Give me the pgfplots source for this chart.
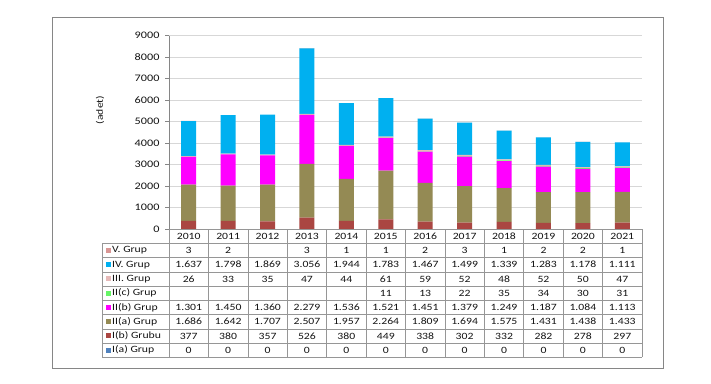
\documentclass[border=0pt]{standalone}
\usepackage{pgfplots}
\pgfplotsset{compat=1.18}
\usepackage{pgfplotstable}
\usepackage{fontspec}
\setmainfont{Carlito}[FakeStretch=1.22]
\definecolor{cIa}{RGB}{79,129,189}
\definecolor{cIb}{RGB}{170,70,66}
\definecolor{cIIa}{RGB}{148,138,84}
\definecolor{cIIb}{RGB}{255,0,255}
\definecolor{cIIc}{RGB}{102,245,102}
\definecolor{cIII}{RGB}{230,185,184}
\definecolor{cIV}{RGB}{0,176,240}
\definecolor{cV}{RGB}{217,150,148}
\definecolor{frame}{RGB}{134,134,134}
\definecolor{tgrid}{RGB}{150,150,150}
\definecolor{hgrid}{RGB}{215,215,215}
\definecolor{txt}{RGB}{20,20,20}

\pgfplotstableread{
x  Ia  Ib   IIa   IIb   IIc  III  IV    V
0  0   377  1686  1301  0    26   1637  3
1  0   380  1642  1450  0    33   1798  2
2  0   357  1707  1360  0    35   1869  0
3  0   526  2507  2279  0    47   3056  3
4  0   380  1957  1536  0    44   1944  1
5  0   449  2264  1521  11   61   1783  1
6  0   338  1809  1451  13   59   1467  2
7  0   302  1694  1379  22   52   1499  3
8  0   332  1575  1249  35   48   1339  1
9  0   282  1431  1187  34   52   1283  2
10 0   278  1438  1084  30   50   1178  2
11 0   297  1433  1113  31   47   1111  1
}\datatable

\begin{document}
\begin{tikzpicture}[x=1pt, y=1pt]
\path[use as bounding box, fill=white] (0,0) rectangle (711,383);
\draw[frame, line width=0.9pt] (52,15) rectangle (663,366);

\begin{axis}[
  at={(169pt,154pt)}, anchor=south west,
  width=473pt, height=193.3pt, scale only axis,
  ybar stacked, bar width=15pt,
  xmin=-0.5, xmax=11.5, ymin=0, ymax=9000,
  ytick={0,1000,...,9000}, xtick=\empty,
  axis lines*=left,
  axis line style={frame, line width=0.6pt},
  tick align=outside, major tick length=4pt,
  ytick style={frame, line width=0.6pt},
  ymajorgrids, grid style={hgrid, line width=0.9pt},
  /pgf/number format/.cd, 1000 sep={}, assume math mode=true,
  /pgfplots/.cd,
  yticklabel style={font=\fontsize{10}{12}\selectfont, text=txt, xshift=-2pt},
  clip=false,
]
\addplot[fill=cIa, draw=none] table[x=x, y=Ia] {\datatable};
\addplot[fill=cIb, draw=none] table[x=x, y=Ib] {\datatable};
\addplot[fill=cIIa, draw=none] table[x=x, y=IIa] {\datatable};
\addplot[fill=cIIb, draw=none] table[x=x, y=IIb] {\datatable};
\addplot[fill=cIIc, draw=none] table[x=x, y=IIc] {\datatable};
\addplot[fill=cIII, draw=none] table[x=x, y=III] {\datatable};
\addplot[fill=cIV, draw=none] table[x=x, y=IV] {\datatable};
\addplot[fill=cV, draw=none] table[x=x, y=V] {\datatable};
\end{axis}

\node[rotate=90, text=txt, font=\fontsize{9.5}{11}\selectfont] at (100,273) {(adet)};

% data table grid
\def\cw{39.4167}
\draw[tgrid, line width=0.6pt] (169,154) -- (642,154);
\foreach \k in {0,...,8} {
  \draw[tgrid, line width=0.6pt] (102,{139.7-14.25*\k}) -- (642,{139.7-14.25*\k});
}
\draw[tgrid, line width=0.6pt] (102,139.7) -- (102,25.7);
\foreach \i in {0,...,12} {
  \draw[tgrid, line width=0.6pt] ({169+\cw*\i},154) -- ({169+\cw*\i},25.7);
}
% header years
\foreach \y [count=\i from 0] in {2010,2011,2012,2013,2014,2015,2016,2017,2018,2019,2020,2021} {
  \node[text=txt, font=\fontsize{9.6}{11}\selectfont, inner sep=0pt] at ({169+\cw*(\i+0.5)},146.85) {\y};
}
% rows
\foreach \nm/\cl/\vals [count=\k from 0] in {
  V. Grup/cV/{3,2,{},3,1,1,2,3,1,2,2,1},
  IV. Grup/cIV/{1.637,1.798,1.869,3.056,1.944,1.783,1.467,1.499,1.339,1.283,1.178,1.111},
  III. Grup/cIII/{26,33,35,47,44,61,59,52,48,52,50,47},
  II(c) Grup/cIIc/{{},{},{},{},{},11,13,22,35,34,30,31},
  II(b) Grup/cIIb/{1.301,1.450,1.360,2.279,1.536,1.521,1.451,1.379,1.249,1.187,1.084,1.113},
  II(a) Grup/cIIa/{1.686,1.642,1.707,2.507,1.957,2.264,1.809,1.694,1.575,1.431,1.438,1.433},
  I(b) Grubu/cIb/{377,380,357,526,380,449,338,302,332,282,278,297},
  I(a) Grup/cIa/{0,0,0,0,0,0,0,0,0,0,0,0}} {
  \pgfmathsetmacro{\yc}{139.7-14.25*(\k+0.5)}
  \fill[\cl] (105.5,\yc-2.5) rectangle (110.5,\yc+2.5);
  \node[anchor=west, text=txt, font=\fontsize{9.6}{11}\selectfont, inner sep=0pt] at (112,\yc) {\nm};
  \foreach \v [count=\i from 0] in \vals {
    \node[text=txt, font=\fontsize{9.6}{11}\selectfont, inner sep=0pt] at ({169+\cw*(\i+0.5)},\yc) {\v};
  }
}
\end{tikzpicture}
\end{document}
